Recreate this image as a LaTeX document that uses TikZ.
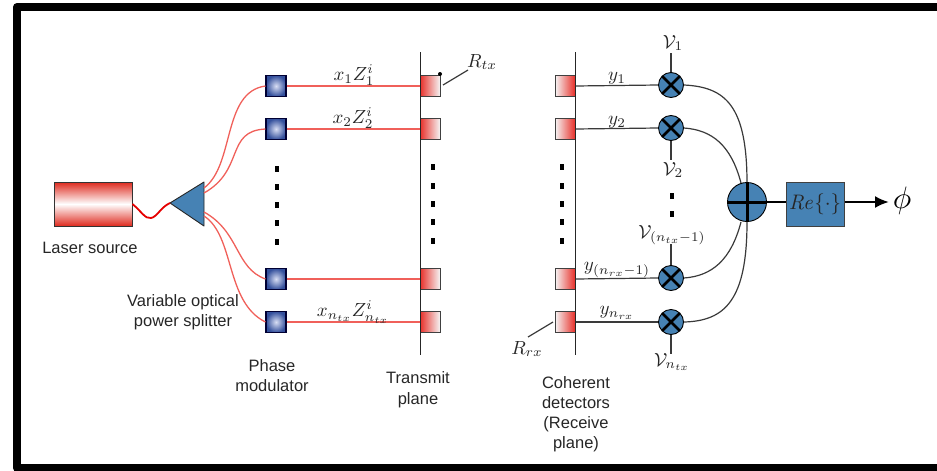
\documentclass[tikz,border=0pt]{standalone}
\usepackage[no-math]{fontspec}
\setmainfont{Liberation Sans}
\usetikzlibrary{arrows.meta}
\definecolor{steel}{HTML}{4682B4}
\definecolor{fibre}{HTML}{F0605A}
\definecolor{wire}{HTML}{3A3A3A}
\definecolor{modout}{HTML}{34509C}
\definecolor{modin}{HTML}{D8DEF4}
\definecolor{laserred}{HTML}{DE2A1E}
\definecolor{elemred}{HTML}{E8302A}
\tikzset{
  x=1pt,y=-1pt,
  lab/.style={font=\fontsize{16.5}{18}\selectfont,inner sep=0pt,align=center,text=black!85},
  mlab/.style={scale=1.9,inner sep=0pt,text=black!85},
  laserbox/.style={draw=black!80,line width=0.9pt,minimum width=78pt,minimum height=44pt,inner sep=0pt,
    top color=laserred,bottom color=laserred,middle color=white},
  modbox/.style={draw=black!80!blue,line width=1.1pt,minimum width=20pt,minimum height=21pt,inner sep=0pt,
    shading=radial,inner color=modin,outer color=modout},
  txbox/.style={draw=black!75,line width=1pt,minimum width=20pt,minimum height=21pt,inner sep=0pt,
    left color=elemred,right color=black!4},
  rxbox/.style={draw=black!75,line width=1pt,minimum width=20pt,minimum height=21pt,inner sep=0pt,
    left color=black!4,right color=elemred},
  fib/.style={draw=fibre,line width=1.3pt},
  sig/.style={draw=wire,line width=1.2pt},
  plane/.style={draw=black!85,line width=1pt},
  dotrow/.style={fill=black,minimum width=4pt,minimum height=6pt,inner sep=0pt},
  mixer/.style={circle,draw=black,line width=0.9pt,fill=steel,minimum size=25pt,inner sep=0pt,
    path picture={\draw[line width=2.8pt]
      (path picture bounding box.north west)--(path picture bounding box.south east)
      (path picture bounding box.north east)--(path picture bounding box.south west);}},
  summer/.style={circle,draw=black,line width=0.9pt,fill=steel,minimum size=39pt,inner sep=0pt,
    path picture={\draw[line width=3pt]
      (path picture bounding box.north)--(path picture bounding box.south)
      (path picture bounding box.west)--(path picture bounding box.east);}},
  rebox/.style={draw=black!75,line width=1pt,fill=steel,minimum width=58pt,minimum height=44pt,inner sep=0pt},
}
\begin{document}
\begin{tikzpicture}
\useasboundingbox (0,0) rectangle (937,471);
% frame
\draw[line width=8pt,line join=round] (937,7) -- (17,7) -- (17,468) -- (937,468);
% planes
\coordinate (ttop) at (420,52); \coordinate (tbot) at (420,355);
\coordinate (rtop) at (575,52); \coordinate (rbot) at (575,355);
% laser and splitter
\node[laserbox] (laser) at (93,204) {};
\coordinate (tip) at (170,203);
\coordinate (su) at (204,182);
\coordinate (sd) at (204,226);
\path[draw=black!85,line width=0.9pt,fill=steel,line join=round] (tip) -- (su) -- (sd) -- cycle;
\coordinate (o1) at (204,188);
\coordinate (o2) at (204,193);
\coordinate (o3) at (204,212);
\coordinate (o4) at (204,216);
% modulators
\node[modbox] (m1) at (276,86) {};
\node[modbox] (m2) at (276,129) {};
\node[modbox] (m3) at (276,279) {};
\node[modbox] (m4) at (276,322) {};
% transmit elements
\node[txbox] (t1) at (430,86) {};
\node[txbox] (t2) at (430,129) {};
\node[txbox] (t3) at (430,279) {};
\node[txbox] (t4) at (430,322) {};
% receive elements
\node[rxbox] (r1) at (565,86) {};
\node[rxbox] (r2) at (565,129) {};
\node[rxbox] (r3) at (565,279) {};
\node[rxbox] (r4) at (565,322) {};
% plane lines
\draw[plane] (ttop) -- (tbot);
\draw[plane] (rtop) -- (rbot);
% fibres
\draw[draw=red!90!black,line width=1.8pt] (laser.east) .. controls (142,212) and (145,219) .. (151,218)
   .. controls (157,217) and (161,207) .. (tip);
\draw[fib] (o1) .. controls (235,165) and (222,92) .. (m1.west);
\draw[fib] (o2) .. controls (245,170) and (225,131) .. (m2.west);
\draw[fib] (o3) .. controls (240,232) and (235,268) .. (m3.west);
\draw[fib] (o4) .. controls (235,236) and (225,302) .. (m4.west);
\draw[fib] (m1.east) -- (t1.west);
\draw[fib] (m2.east) -- (t2.west);
\draw[fib] (m3.east) -- (t3.west);
\draw[fib] (m4.east) -- (t4.west);
% dots
\foreach \n/\yy in {a/169,b/187,c/205,d/223,e/242}{\node[dotrow] (dm\n) at (277,\yy) {};}
\foreach \n/\yy in {a/167,b/186,c/204,d/222,e/241}{\node[dotrow] (dt\n) at (433,\yy) {};}
\foreach \n/\yy in {a/167,b/186,c/204,d/222,e/241}{\node[dotrow] (dr\n) at (562,\yy) {};}
\foreach \n/\yy in {a/196,b/214}{\node[dotrow] (dv\n) at (672,\yy) {};}
% mixers
\node[mixer] (x1) at (671,85) {};
\node[mixer] (x2) at (671,128) {};
\node[mixer] (x3) at (671,278) {};
\node[mixer] (x4) at (671,322) {};
\draw[sig] (r1.east) -- (x1.west);
\draw[sig] (r2.east) -- (x2.west);
\draw[sig] (r3.east) -- (x3.west);
\draw[sig] (r4.east) -- (x4.west);
% summer (lines first so that it sits on top)
\coordinate (sn) at (747,183);
\coordinate (sl) at (741,183);
\coordinate (s2) at (741,222);
\coordinate (ss) at (747,222);
\draw[sig] (x1.east) .. controls (725,87) and (747,105) .. (sn);
\draw[sig] (x2.east) .. controls (712,130) and (731,145) .. (sl);
\draw[sig] (x3.east) .. controls (712,276) and (731,260) .. (s2);
\draw[sig] (x4.east) .. controls (725,321) and (747,300) .. (ss);
\node[summer] (add) at (747,202) {};
\node[rebox] (re) at (815,204) {};
\node[scale=2.1,inner sep=0pt,text=black!85] at (re.center) {$\mathit{Re}\{\cdot\}$};
\draw[draw=black,line width=1.6pt] (add.east) -- (re.west|-add.east);
\node[scale=3.1,inner sep=0pt] (phi) at (902,201) {$\phi$};
\coordinate (arrowend) at (889,202);
\draw[draw=black,line width=2.2pt,-{Latex[length=14pt,width=12pt]}] (re.east|-arrowend) -- (arrowend);
% phase reference labels with stubs
\node[mlab] (v1) at (673,43) {$\mathcal{V}_1$};
\node[mlab] (v2) at (673,170) {$\mathcal{V}_2$};
\node[mlab] (v3) at (672,235) {$\mathcal{V}_{(n_{tx}-1)}$};
\node[mlab] (v4) at (672,362) {$\mathcal{V}_{n_{tx}}$};
\draw[sig] (x1.north) -- (671,53);
\draw[sig] (x2.south) -- (671,160);
\draw[sig] (x3.north) -- (671,244);
\draw[sig] (x4.south) -- (671,354);
% math labels
\node[mlab] (lx1) at (354,75) {$x_1Z_1^i$};
\node[mlab] (lx2) at (353,118) {$x_2Z_2^i$};
\node[mlab] (lx4) at (353,312) {$x_{n_{tx}}Z_{n_{tx}}^i$};
\node[mlab] (ly1) at (617,78) {$y_1$};
\node[mlab] (ly2) at (617,122) {$y_2$};
\node[mlab] (ly3) at (617,270) {$y_{(n_{rx}-1)}$};
\node[mlab] (ly4) at (617,313) {$y_{n_{rx}}$};
\node[mlab] (rt) at (482,62) {$R_{tx}$};
\node[mlab] (rr) at (527,349) {$R_{rx}$};
\coordinate (rta) at (443,85);
\coordinate (rtb) at (468,70);
\coordinate (rra) at (553,322);
\coordinate (rrb) at (528,337);
\draw[sig] (rta) -- (rtb);
\draw[sig] (rra) -- (rrb);
\fill (440,74) circle (2pt);
% text labels
\node[lab] (tlaser) at (90,248) {Laser source};
\node[lab] (tsplit) at (183,312) {Variable optical\\[2pt]power splitter};
\node[lab] (tphase) at (272,376) {Phase\\[2pt]modulator};
\node[lab] (ttx) at (418,390) {Transmit\\[3pt]plane};
\node[lab] (trx) at (576,414) {Coherent\\[2pt]detectors\\[2pt](Receive\\[2pt]plane)};
\end{tikzpicture}
\end{document}
